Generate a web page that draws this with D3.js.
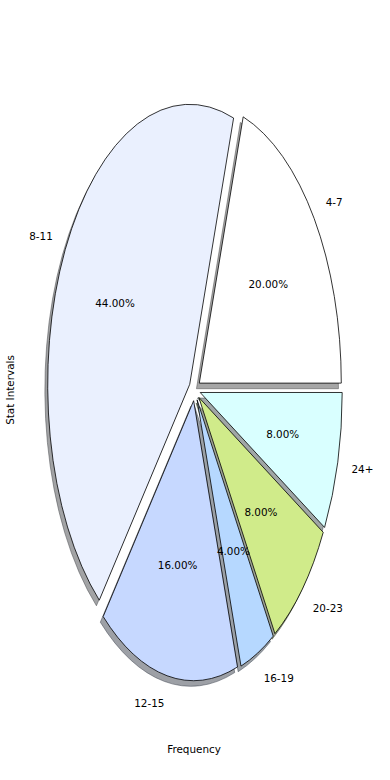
<!DOCTYPE html>
<html>
<head>
<meta charset="utf-8">
<script src="https://cdn.jsdelivr.net/npm/d3@7"></script>
<style>
  body { margin: 0; background: #fff; }
  text { font-family: "DejaVu Sans", sans-serif; font-size: 10.4px; fill: #000; }
</style>
</head>
<body>
<figure id="chart" style="margin:0"></figure>
<script>
const categories = ["4-7", "8-11", "12-15", "16-19", "20-23", "24+"];
const shares = [20, 44, 16, 4, 8, 8];
const colors = ["#ffffff", "#eaf0fe", "#c6d8ff", "#b6d8ff", "#d0eb8a", "#d9ffff"];

const width = 390, height = 780;
const cx = 194.7, cy = 389.7, rx = 142, ry = 280;
const explode = 0.04;

const svg = d3.select("#chart").append("svg")
  .attr("width", width)
  .attr("height", height);

// data space of the pie: unit circle stretched to the axes box
const x = d3.scaleLinear().domain([-1, 1]).range([cx - rx, cx + rx]);
const y = d3.scaleLinear().domain([-1, 1]).range([cy + ry, cy - ry]);

// counterclockwise from 3 o'clock, like matplotlib
const pie = d3.pie().sort(null).startAngle(Math.PI / 2).endAngle(Math.PI / 2 - 2 * Math.PI);
const arcs = pie(shares).map((d, i) => {
  const mid = Math.PI / 2 - (d.startAngle + d.endAngle) / 2;
  return {
    ...d,
    key: categories[i],
    color: colors[i],
    ux: Math.cos(mid),
    uy: Math.sin(mid),
    ox: explode * Math.cos(mid),
    oy: explode * Math.sin(mid)
  };
});

const arc = d3.arc().innerRadius(0).outerRadius(1);
const sx = x(1) - x(0), sy = y(0) - y(1);

// shadows under every wedge
const shadowColor = c => {
  const r = d3.rgb(c);
  return d3.rgb(r.r * 0.3, r.g * 0.3, r.b * 0.3).toString();
};
svg.append("g").selectAll("path")
  .data(arcs)
  .enter()
  .append("path")
  .attr("transform", d => `translate(${x(d.ox - 0.02)},${y(d.oy - 0.02)}) scale(${sx},${sy})`)
  .attr("d", arc)
  .attr("fill", d => shadowColor(d.color))
  .attr("fill-opacity", 0.5)
  .attr("stroke", d => shadowColor(d.color))
  .attr("stroke-opacity", 0.5)
  .attr("stroke-width", 1)
  .attr("vector-effect", "non-scaling-stroke");

// wedges
svg.append("g").selectAll("path")
  .data(arcs)
  .enter()
  .append("path")
  .attr("transform", d => `translate(${x(d.ox)},${y(d.oy)}) scale(${sx},${sy})`)
  .attr("d", arc)
  .attr("fill", d => d.color)
  .attr("stroke", "#000")
  .attr("stroke-width", 0.8)
  .attr("stroke-linejoin", "round")
  .attr("vector-effect", "non-scaling-stroke");

// category labels at 1.1 radius
svg.append("g").selectAll("text")
  .data(arcs)
  .enter()
  .append("text")
  .attr("x", d => x(d.ox + 1.1 * d.ux))
  .attr("y", d => y(d.oy + 1.1 * d.uy))
  .attr("dy", "0.35em")
  .attr("text-anchor", d => d.ux > 0 ? "start" : "end")
  .text(d => d.key);

// percentage labels at 0.6 radius
svg.append("g").selectAll("text")
  .data(arcs)
  .enter()
  .append("text")
  .attr("x", d => x(d.ox + 0.6 * d.ux))
  .attr("y", d => y(d.oy + 0.6 * d.uy))
  .attr("dy", "0.35em")
  .attr("text-anchor", "middle")
  .text(d => d.value.toFixed(2) + "%");

// axis labels
svg.append("text")
  .attr("x", 194)
  .attr("y", 749)
  .attr("dy", "0.35em")
  .attr("text-anchor", "middle")
  .text("Frequency");

svg.append("text")
  .attr("transform", "translate(10,390) rotate(-90)")
  .attr("dy", "0.35em")
  .attr("text-anchor", "middle")
  .text("Stat Intervals");
</script>
</body>
</html>
